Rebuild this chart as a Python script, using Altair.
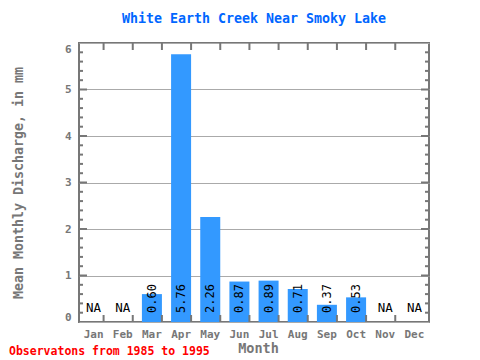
import altair as alt
import pandas as pd

months = ["Jan", "Feb", "Mar", "Apr", "May", "Jun", "Jul", "Aug", "Sep", "Oct", "Nov", "Dec"]
discharge = [None, None, 0.60, 5.76, 2.26, 0.87, 0.89, 0.71, 0.37, 0.53, None, None]
y_major = [0, 1, 2, 3, 4, 5, 6]
y_major_inner = [1, 2, 3, 4, 5]
y_minor = [0.2, 0.4, 0.6, 0.8, 1.2, 1.4, 1.6, 1.8, 2.2, 2.4, 2.6, 2.8,
           3.2, 3.4, 3.6, 3.8, 4.2, 4.4, 4.6, 4.8, 5.2, 5.4, 5.6, 5.8]
title_text = "White Earth Creek Near Smoky Lake"
footer_text = "Observatons from 1985 to 1995"
x_title = "Month"
y_title = "Mean Monthly Discharge, in mm"

W, H = 350, 279
FONT = "DejaVu Sans Mono"
GRAY = "#777777"

df = pd.DataFrame({"month": months, "value": discharge})
minor_df = pd.DataFrame({"value": y_minor})
major_df = pd.DataFrame({"value": y_major_inner})
footer_df = pd.DataFrame({"t": [footer_text]})

xscale = alt.Scale(domain=months, paddingInner=0.314, paddingOuter=0.157)
yscale = alt.Scale(domain=[0, 6], nice=False, zero=True)

x_axis = alt.Axis(
    title=x_title, ticks=False, domain=False, labelAngle=0,
    labelFont=FONT, labelFontSize=11, labelFontWeight="bold", labelColor=GRAY,
    labelPadding=6, titleFont=FONT, titleFontSize=13.5, titleFontWeight="bold",
    titleColor=GRAY, titleX=179, titleY=26, titleBaseline="middle",
)
y_axis = alt.Axis(
    title=y_title, values=y_major, grid=True, gridColor="#aaaaaa", gridWidth=1,
    ticks=False, domain=False, labelFlush=True, labelPadding=8,
    labelFont=FONT, labelFontSize=11, labelFontWeight="bold", labelColor=GRAY,
    titleFont=FONT, titleFontSize=13.3, titleFontWeight="bold", titleColor=GRAY,
    titleX=-61, titleY=139.5, titleBaseline="middle", titleAngle=270,
)
x_enc = alt.X("month:N", sort=months, scale=xscale, axis=x_axis)
y_enc = alt.Y("value:Q", scale=yscale, axis=y_axis)

base = alt.Chart(df)

bars = base.mark_bar(color="#3399ff").encode(x=x_enc, y=y_enc)

labels = base.transform_filter("isValid(datum.value)").mark_text(
    angle=270, align="left", baseline="middle", dx=9,
    font=FONT, fontSize=12, color="black",
).encode(
    x=x_enc,
    y=alt.value(H),
    text=alt.Text("value:Q", format=".2f"),
)

na_labels = base.transform_filter("!isValid(datum.value)").mark_text(
    text="NA", align="center", baseline="middle",
    font=FONT, fontSize=12.5, color="black",
).encode(
    x=x_enc,
    y=alt.value(H - 14),
)

bound = base.transform_filter("datum.month != 'Dec'")
x_edge = alt.X("month:N", sort=months, scale=xscale, bandPosition=1, axis=x_axis)
xtick_top = bound.mark_rule(color=GRAY, strokeWidth=2).encode(
    x=x_edge, y=alt.value(0), y2=alt.value(7),
)
xtick_bot = bound.mark_rule(color=GRAY, strokeWidth=2).encode(
    x=x_edge, y=alt.value(H), y2=alt.value(H - 7),
)

def yticks(data, x0, x1):
    return alt.Chart(data).mark_rule(color=GRAY, strokeWidth=2).encode(
        y=y_enc, x=alt.value(x0), x2=alt.value(x1),
    )

ytl_minor = yticks(minor_df, 0, 4)
ytl_major = yticks(major_df, 0, 8)
ytr_minor = yticks(minor_df, W, W - 4)
ytr_major = yticks(major_df, W, W - 8)

footer = alt.Chart(footer_df).mark_text(
    align="left", baseline="middle", font=FONT, fontSize=11.5,
    fontWeight="bold", color="#ff0000",
).encode(x=alt.value(-70), y=alt.value(309), text="t:N")

chart = alt.layer(
    bars, labels, na_labels, xtick_top, xtick_bot,
    ytl_minor, ytl_major, ytr_minor, ytr_major, footer,
).properties(
    width=W, height=H,
    title=alt.TitleParams(
        title_text, anchor="middle", font=FONT, fontSize=13.3,
        fontWeight="bold", color="#0066ff", offset=17,
    ),
    autosize=alt.AutoSizeParams(type="none"),
    padding={"left": 71, "top": 35, "right": 43, "bottom": 36},
).configure_view(stroke=GRAY, strokeWidth=2)

chart.save("out.html", embed_options={"renderer": "svg", "actions": False})
